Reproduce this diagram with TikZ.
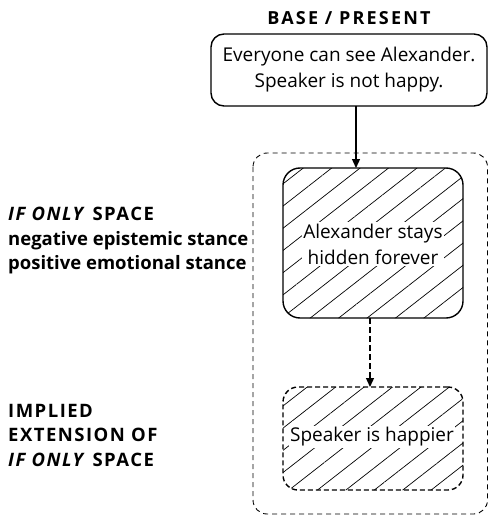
\documentclass[tikz,border=0pt]{standalone}
\usepackage{fontspec}
\setmainfont{Open Sans}
\usetikzlibrary{arrows.meta,patterns.meta}
\newcommand\tracked[1]{{\addfontfeatures{LetterSpace=8}#1}}
\tikzset{
  x=1pt, y=-1pt,
  every node/.style={font=\fontsize{19}{26}\selectfont},
  frame/.style={draw, line width=1.4pt, rounded corners=13pt},
  hatched/.style={pattern={Lines[angle=38, distance=17.5pt, line width=0.7pt]}},
  label/.style={fill=white, inner sep=1.5pt, align=center},
  side/.style={anchor=west, align=left, inner sep=0pt,
    font=\fontsize{18.5}{24.5}\selectfont\bfseries},
  link/.style={line width=1.3pt, -{Triangle[length=9pt, width=8pt]}},
}
\begin{document}
\begin{tikzpicture}
\useasboundingbox (0,0) rectangle (489,516);

% title above the base space
\node[font=\fontsize{18}{20}\selectfont\bfseries\addfontfeatures{LetterSpace=12}]
  (title) at (349,18) {BASE / PRESENT};

% base / present space
\node[frame, minimum width=276pt, minimum height=72pt, align=center]
  (base) at (349,70) {Everyone can see Alexander.\\Speaker is not happy.};

% outer dashed frame of the if-only space
\draw[dashed, line width=0.9pt, dash pattern=on 5pt off 4pt, rounded corners=14pt]
  (253,153) rectangle (487.5,514);

% counterfactual space
\node[frame, hatched, rounded corners=17pt, minimum width=180pt, minimum height=150pt]
  (wish) at (373,243) {};
\node[label] (wishtext) at (373,244) {Alexander stays\\hidden forever};

% implied extension: hatching first, dashed outline on top
\fill[hatched, rounded corners=15pt] (283,387) rectangle (463,490);
\node[frame, dashed, dash pattern=on 5pt off 3pt, rounded corners=15pt,
  minimum width=180pt, minimum height=103pt]
  (happy) at (373,438.5) {};
\node[label] (happytext) at (372,437) {Speaker is happier};

% connectors
\coordinate (a1) at (356,106);
\coordinate (a2) at (356,168);
\draw[link] (a1) -- (a2);
\coordinate (b1) at (370,318);
\coordinate (b2) at (370,387);
\draw[link, dashed, dash pattern=on 6pt off 3pt] (b1) -- (b2);

% side labels
\node[side] (ifonly) at (8,241)
  {\tracked{\textit{IF ONLY} SPACE}\\negative epistemic stance\\positive emotional stance};
\node[side] (implied) at (8,435)
  {\tracked{IMPLIED}\\\tracked{EXTENSION OF}\\\tracked{\textit{IF ONLY} SPACE}};
\end{tikzpicture}
\end{document}
